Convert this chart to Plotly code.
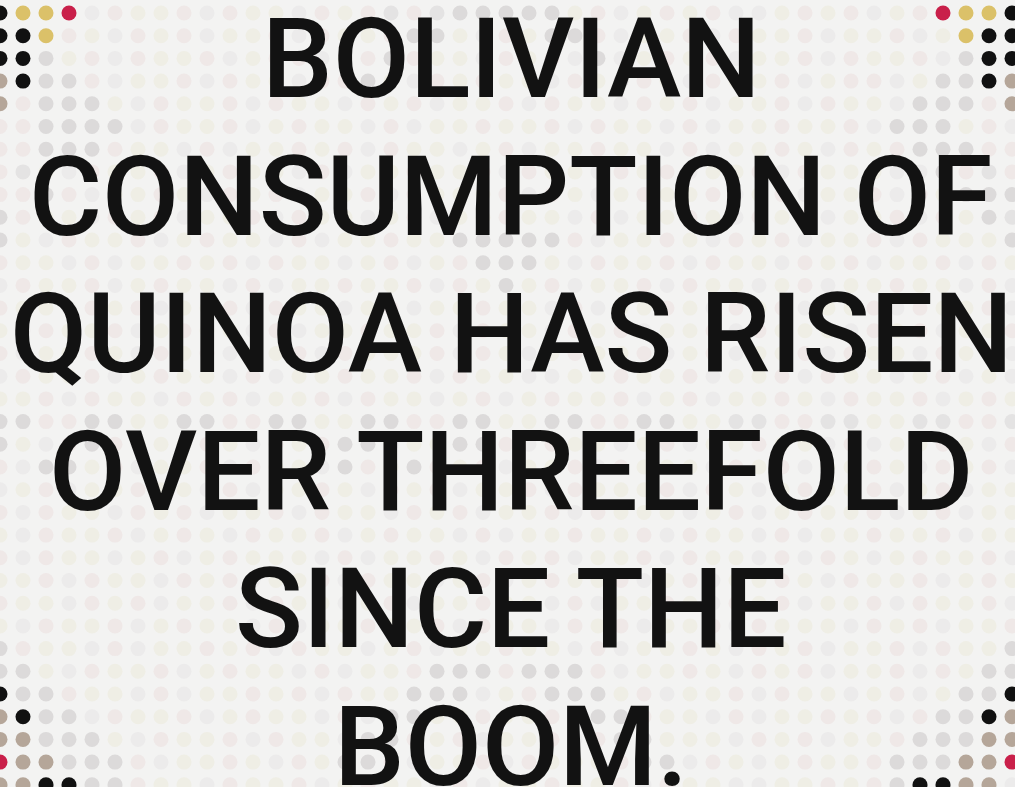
import plotly.graph_objects as go

# ---- text content ----
LINES = ["BOLIVIAN", "CONSUMPTION OF", "QUINOA HAS RISEN",
         "OVER THREEFOLD", "SINCE THE", "BOOM."]

# ---- dot grid (one string per row, one code per dot) ----
GRID = [
    "KYYR" "wpyypwpyywpyp" "gpg" "GGGGG" "ypwypypwwypypwyp" "RYYK",
    "KKY" "pywpypwyypwpyyp" "GG" "ywpy" "GG" "pwyypwpyypwyypwy" "YKK",
    "KKG" "ypwpyypwyppwyp" "G" "pyywpypw" "G" "wypypwyypwpyypw" "GKK",
    "TKGG" "pwyypwpyywpp" "G" "ywpypyywpy" "G" "pywpyypwyppwy" "GGKT",
    "TpGGG" "ywpyypwpyywpypwyypwpyywpypwyypwpyyw" "GGGpT",
    "ppGGGG" "wpyypwypyywpwyypyypwpyywpwyypyypw" "GGG" "ypw",
    "ppGGG" "pyywpwyypypwpyywypwyypyywpwyypywpyp" "GGG" "pp",
    "pg" "ywpyypwypyywpwyypyypwpyywpypwyypwpyyyww" "G" "p" "g" "p",
    "ppG" "pwyypywpypwyypwpyyypwpywypyypwypwyypwpy" "GGG",
    "G" "pyywpypwyypwpyywypwyypyywpwyypywpypwyypwpy" "Gg",
    "G" "ywpyypwypyywpwyypyy" "GGGGG" "pwyypywpypwyypwpyyy" "G",
    "pyywpwyypypwpyywypwyp" "GGG" "ywpyypwpyywpypwyypwpy",
    "wpyypwypyywpwyypyypwpy" "G" "ypwyypwpyywypwyypyywpw",
    "pyywpypwyypwpyywypwyypyywpwyypywpypwyypwpyypw",
    "ywpyypwypyywpwyypyypwpyywpypwyypwpyyywpypwyyp",
    "pwyypywpypwyypwpyyypwpywypyypwypwyypwpyywpypw",
    "wpyypwypyywpwyypyypwpyywwyypyypwyypwpyywypwy",
    "yypwpyywpypwyypwpyywypwypyypwypwyypywpyypwypy",
    "GGppGGyyGGppGGyyGGppGGyyGGppGG" "yyggppggyyggppg",
    "G" "ywp" "G" "pwyypywpyp" "GG" "wyy" "GG" "pwpyywypwyypyywpwyypywp",
    "pw" "GG" "ypwyypwpyyw" "G" "py" "G" "pypwyypwpyyywpypwyypywpypw",
    "wypwyypyywpwyypywpypwyypwpyyypwpywypyypwypwyy",
    "pwpyywpypwyypwpyywpypwyypwpyyywypwypyypwypwyyp",
    "ywpyypwypywpyypwypyywpwyypyypwpyywpwyypyypwyy",
    "pwpyywypwypyyywpwyypywpypwyypwpyywpwpywypyypw",
    "yypwpyywpypwyypwpyywypwypyypwypwyypywpyypwypy",
    "pyywpypwyypwpyywypwyypyywpwyypywpypwyypwpyypw",
    "ywpyypwypyywpwyypyypwpyywpypwyypwpyyywpypwyyp",
    "G" "pyywpwyypypwpyywypwyypyywpwyypywpypwyypwpyy" "G",
    "GG" "ywpyypwypyywpwyyp" "GGG" "p" "GGG" "pwyypywpypwyypwpy" "GG",
    "KGG" "pyywpwyypypwpyy" "GGG" "wyp" "GGG" "ypwyypwpyywypwy" "GGK",
    "TKGG" "wpyypwypyywpw" "GG" "yypyypw" "GG" "pyywpwyypypwp" "GGKT",
    "TTGGG" "ywpyypwpyyw" "GG" "pypwyypwp" "GG" "yyywpypwyyp" "GGGTT",
    "RTTGGG" "pwyypywpy" "GG" "pwyypwpyyyp" "GG" "wpywypyyp" "GGGTTR",
    "TTKK" "GGpyywpyypwypyywpwyypyypwpyywwyypyp" "GKKTT",
]

COLORS = {
    "K": "#111111", "Y": "#dbc169", "R": "#c9204a", "T": "#b5a699",
    "G": "#dcdada", "g": "#e4e3e3", "p": "#efe8e7", "y": "#efeee5",
    "w": "#ecebeb",
}

# ---- layout constants ----
W, H = 1015, 787
X0, DX = 0.0, 23.0
Y0, DY = 13.0, 22.7
DOT = 15
BG = "#f3f3f2"

fig = go.Figure()

for code, col in COLORS.items():
    xs, ys = [], []
    for r, row in enumerate(GRID):
        row = (row + "w" * 45)[:45]
        for c, ch in enumerate(row):
            if ch == code:
                xs.append(X0 + c * DX)
                ys.append(Y0 + r * DY)
    if xs:
        fig.add_trace(go.Scatter(
            x=xs, y=ys, mode="markers", hoverinfo="skip", showlegend=False,
            marker=dict(size=DOT, color=col, line=dict(width=0)),
        ))

TEXT_Y0, TEXT_DY = 58.5, 137.5
for i, line in enumerate(LINES):
    fig.add_annotation(
        x=511, y=TEXT_Y0 + i * TEXT_DY, xref="x", yref="y",
        text=line, showarrow=False, xanchor="center", yanchor="middle",
        font=dict(family="Roboto", size=112, color="#121212", weight=500),
    )

fig.update_layout(
    width=W, height=H, margin=dict(l=0, r=0, t=0, b=0),
    paper_bgcolor=BG, plot_bgcolor=BG,
    xaxis=dict(range=[0, W], visible=False, fixedrange=True),
    yaxis=dict(range=[H, 0], visible=False, fixedrange=True),
)

fig.write_html(
    "out.html",
    config={"displayModeBar": False},
    post_script="document.body.style.margin='0';document.body.style.overflow='hidden';",
)
